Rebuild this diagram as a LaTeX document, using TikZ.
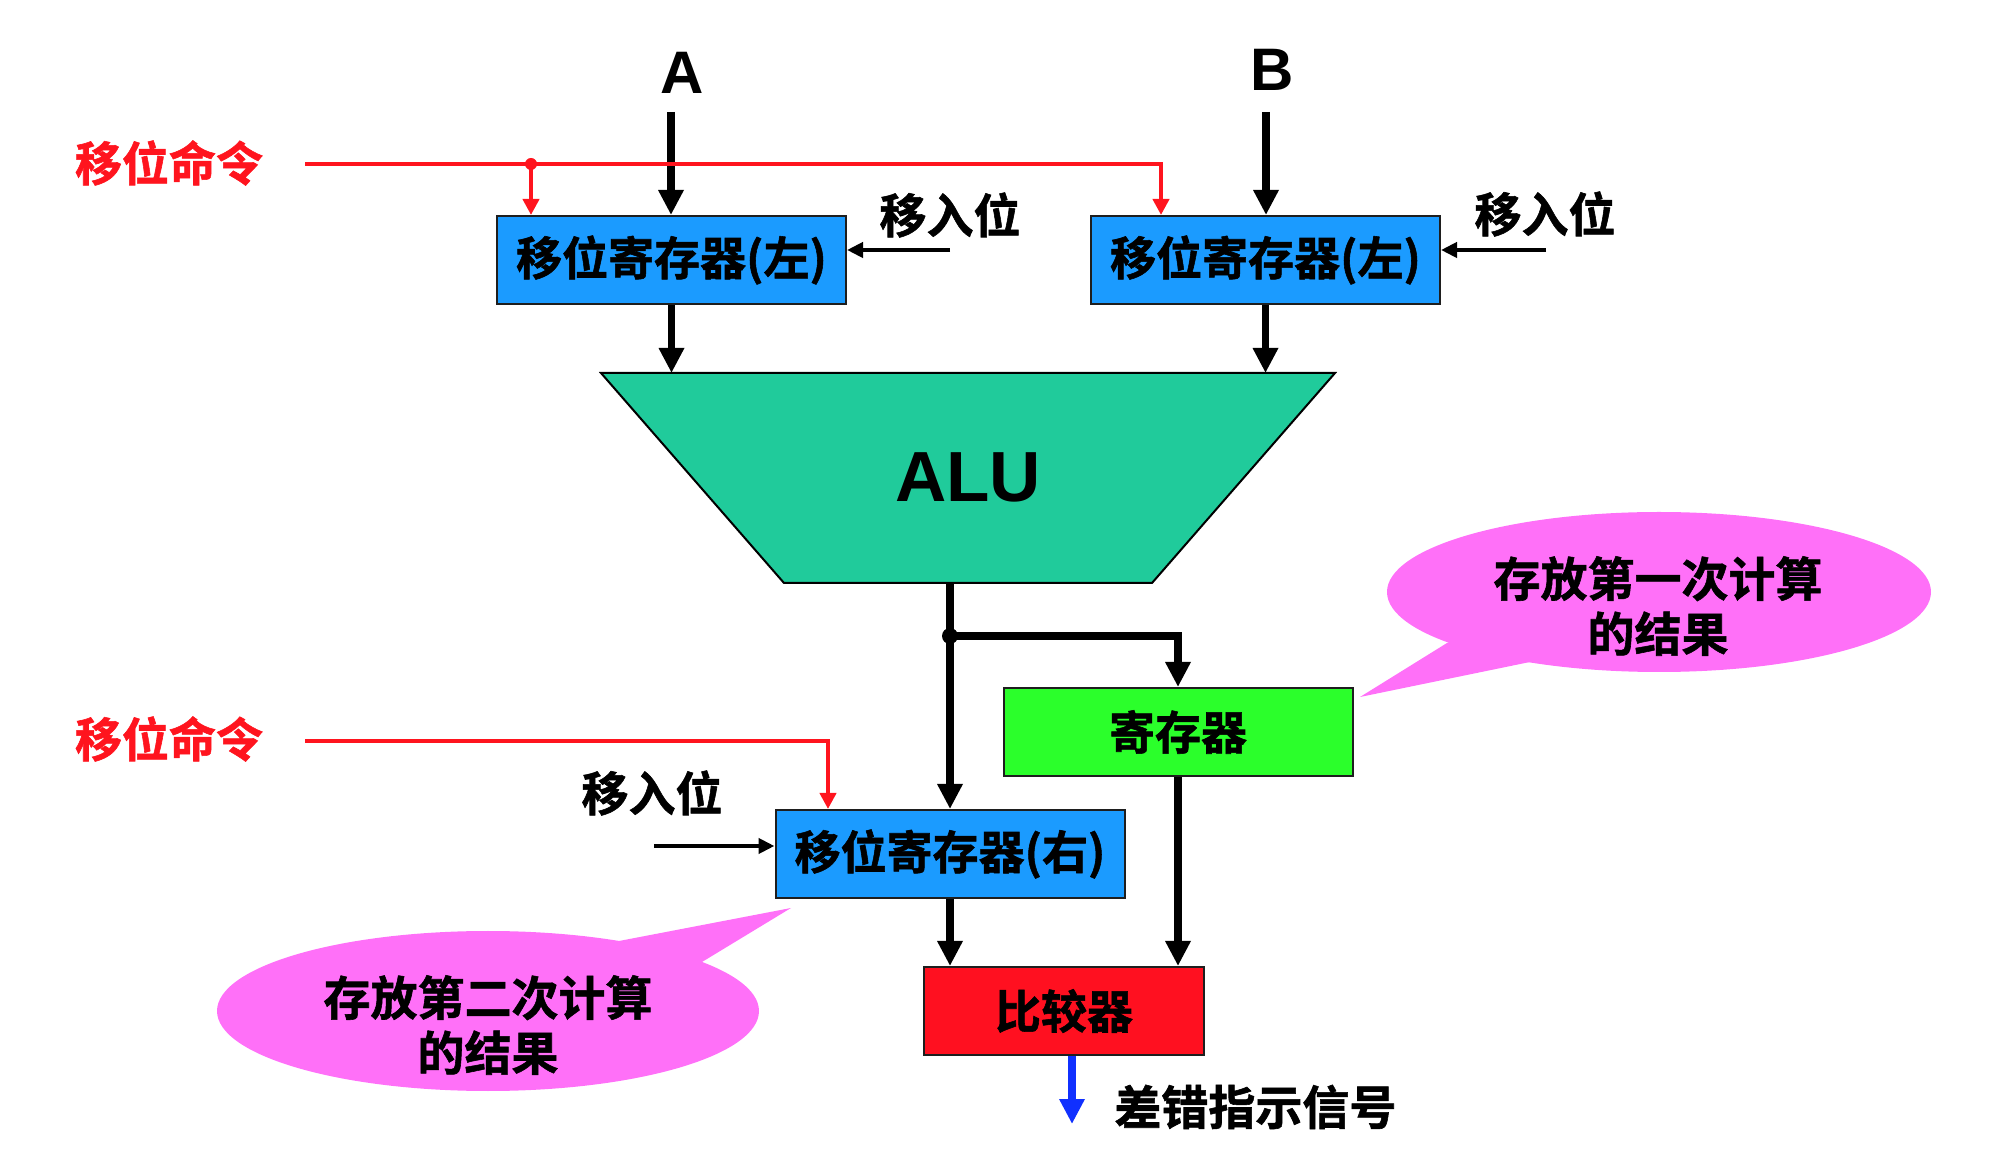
\documentclass[tikz,border=0pt]{standalone}
\usepackage{fontspec}
\newfontfamily\cjk{Noto Sans CJK SC}[BoldFont={* Bold}, BoldFeatures={FakeBold=1.2}]
\newfontfamily\lat{Liberation Sans}
\usetikzlibrary{arrows.meta}
\definecolor{boxblue}{RGB}{27,155,255}
\definecolor{boxgreen}{RGB}{43,255,43}
\definecolor{boxred}{RGB}{255,16,32}
\definecolor{alugreen}{RGB}{32,203,155}
\definecolor{callpink}{RGB}{255,112,248}
\definecolor{sigred}{RGB}{255,20,30}
\definecolor{sigblue}{RGB}{16,48,255}
\definecolor{edge}{RGB}{30,30,30}
\tikzset{
  regbox/.style={draw=edge, line width=1pt, minimum width=174.5pt, minimum height=44pt, inner sep=0pt,
    font=\cjk\bfseries\fontsize{23pt}{27pt}\selectfont},
  blk/.style={line width=3.8pt, -{Triangle[width=12pt,length=12.5pt]}},
  redl/.style={draw=sigred, line width=2pt},
  reda/.style={redl, -{Triangle[width=8pt,length=8pt]}},
  inarr/.style={line width=2.2pt, -{Triangle[width=7.5pt,length=8pt]}},
  bluearr/.style={draw=sigblue, line width=3.8pt, -{Triangle[width=12pt,length=12.5pt]}},
  lbl/.style={font=\cjk\bfseries\fontsize{23.5pt}{27.5pt}\selectfont, inner sep=0pt},
  latlbl/.style={font=\lat\bfseries\fontsize{30pt}{34pt}\selectfont, inner sep=0pt},
}
\begin{document}
\begin{tikzpicture}[x=0.5pt,y=-0.5pt]
\useasboundingbox (0,0) rectangle (1994,1154);

% callouts
\fill[callpink] (1659,592) ellipse [x radius=272, y radius=80];
\fill[callpink] (1360,697) -- (1447,643) -- (1560,600) -- (1530,662) -- cycle;
\node[lbl, align=center] (note1) at (1658,606) {存放第一次计算\\的结果};

\fill[callpink] (488,1011) ellipse [x radius=271, y radius=80];
\fill[callpink] (791,908) -- (619,941) -- (600,1000) -- (702,962) -- cycle;
\node[lbl, align=center] (note2) at (488,1025) {存放第二次计算\\的结果};

% ALU
\path[draw=black, line width=1pt, fill=alugreen] (601,373) -- (1335,373) -- (1152,583) -- (784,583) -- cycle;
\node[font=\lat\bfseries\fontsize{35.5pt}{40pt}\selectfont, inner sep=0pt] (alu) at (968,477) {ALU};
\coordinate (aluT) at (968,373);
\coordinate (aluB) at (950,583);

% boxes
\node[regbox, fill=boxblue] (srl1) at (671.5,260) {移位寄存器(左)};
\node[regbox, fill=boxblue] (srl2) at (1265.5,260) {移位寄存器(左)};
\node[regbox, fill=boxgreen] (reg) at (1178,732) {寄存器};
\node[regbox, fill=boxblue] (srr) at (950,854) {移位寄存器(右)};
\node[regbox, fill=boxred, minimum width=140pt] (cmp) at (1064,1011) {比较器};

% labels
\node[latlbl] (labA) at (682,73) {A};
\node[latlbl] (labB) at (1272,70) {B};
\node[lbl, text=sigred] (cmd1) at (169,163) {移位命令};
\node[lbl, text=sigred] (cmd2) at (169,739) {移位命令};
\node[lbl] (in1lbl) at (950,215) {移入位};
\node[lbl] (in2lbl) at (1545,214) {移入位};
\node[lbl] (in3lbl) at (652,793) {移入位};
\node[lbl, anchor=west] (errlbl) at (1114,1107) {差错指示信号};

% A, B inputs
\coordinate (Atail) at (671,112);
\coordinate (Btail) at (1266,112);
\draw[blk] (Atail) -- (Atail |- srl1.north);
\draw[blk] (Btail) -- (Btail |- srl2.north);

% red shift commands
\coordinate (r1s) at (305,164);
\coordinate (r1d) at (531,164);
\coordinate (r1e) at (1161,164);
\draw[reda] (r1s) -- (r1e) -- (r1e |- srl2.north);
\draw[reda] (r1d) -- (r1d |- srl1.north);
\fill[sigred] (r1d) circle (6);

\coordinate (r2s) at (305,741);
\coordinate (r2e) at (828,741);
\draw[reda] (r2s) -- (r2e) -- (r2e |- srr.north);

% shift-in bits
\coordinate (i1) at (950,250);
\coordinate (i2) at (1546,250);
\coordinate (i3) at (654,846);
\draw[inarr] (i1) -- (i1 -| srl1.east);
\draw[inarr] (i2) -- (i2 -| srl2.east);
\draw[inarr] (i3) -- (i3 -| srr.west);

% data paths
\draw[blk] (srl1.south) -- (srl1.south |- aluT);
\draw[blk] (srl2.south) -- (srl2.south |- aluT);
\coordinate (jn) at (950,636);
\draw[blk] (aluB) -- (srr.north);
\draw[blk] (jn) -- (jn -| reg.north) -- (reg.north);
\fill (jn) circle (8);
\draw[blk] (srr.south) -- (srr.south |- cmp.north);
\draw[blk] (reg.south) -- (reg.south |- cmp.north);
\coordinate (errend) at (1072,1124);
\draw[bluearr] (errend |- cmp.south) -- (errend);
\end{tikzpicture}
\end{document}
